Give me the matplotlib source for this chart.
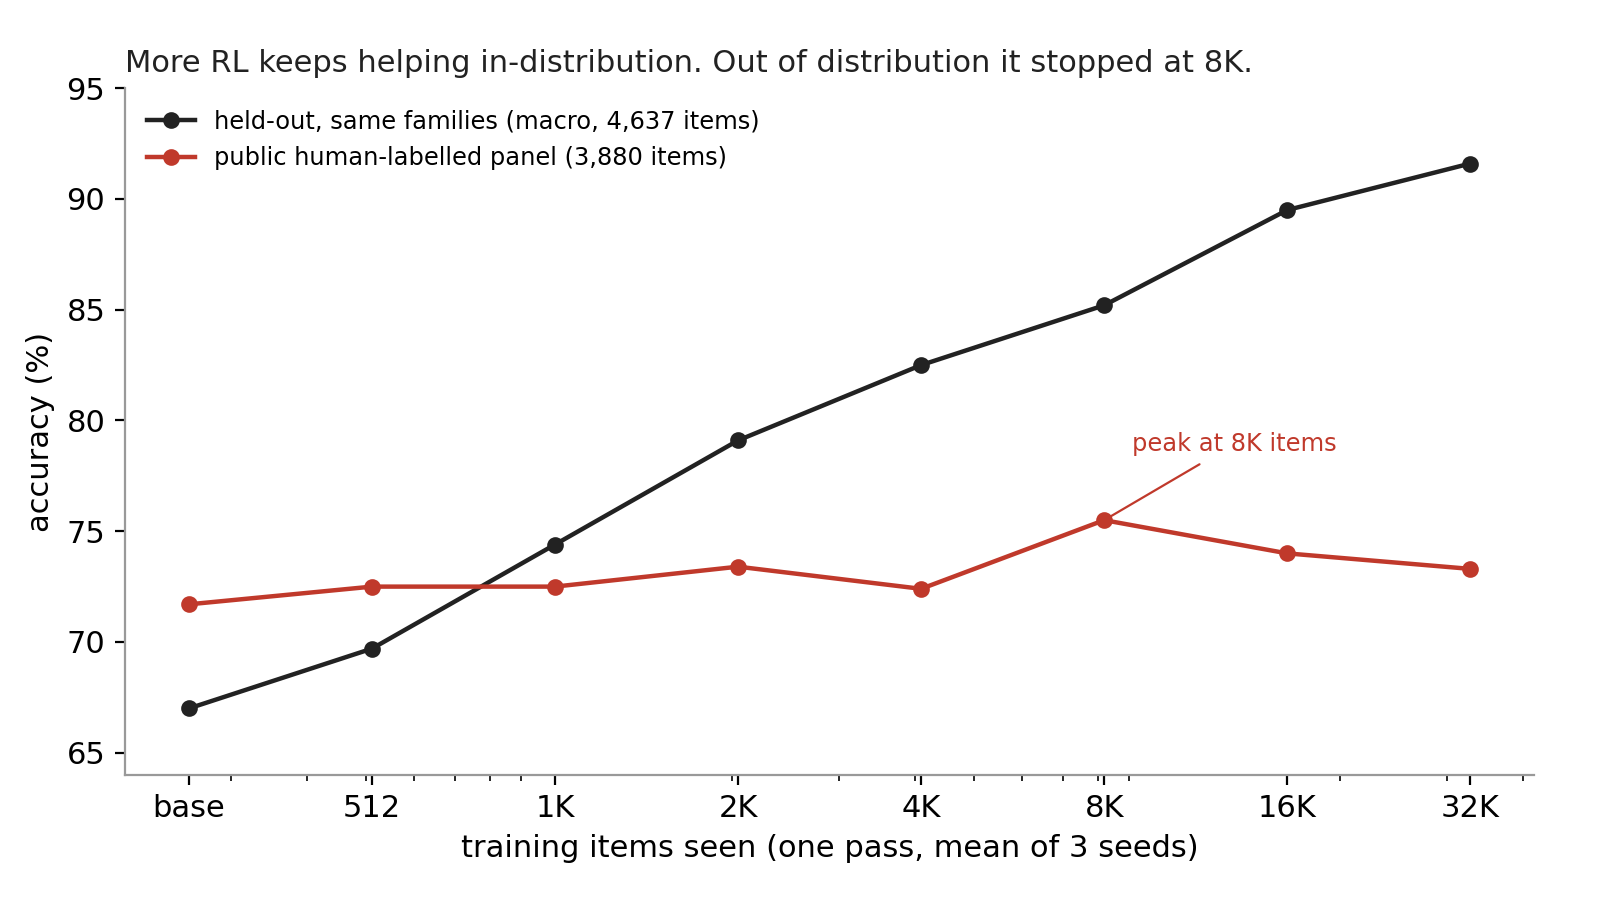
import numpy as np
import matplotlib
matplotlib.use("Agg")
import matplotlib.pyplot as plt
from matplotlib.ticker import NullFormatter

# training items seen (log scale), base model placed at 256
items = [256, 512, 1024, 2048, 4096, 8192, 16384, 32768]
tick_labels = ["base", "512", "1K", "2K", "4K", "8K", "16K", "32K"]
held_out = [67.0, 69.7, 74.4, 79.1, 82.5, 85.2, 89.5, 91.6]
public_panel = [71.7, 72.5, 72.5, 73.4, 72.4, 75.5, 74.0, 73.3]

black = "#222222"
red = "#c0392b"

fig = plt.figure(figsize=(8, 4.5), dpi=200)
ax = fig.add_axes([0.078, 0.139, 0.881, 0.763])

ax.plot(items, held_out, color=black, lw=1.6, marker="o", ms=5,
        label="held-out, same families (macro, 4,637 items)")
ax.plot(items, public_panel, color=red, lw=1.6, marker="o", ms=5,
        label="public human-labelled panel (3,880 items)")

ax.set_xscale("log")
ax.set_xticks(items)
ax.set_xticklabels(tick_labels)
ax.xaxis.set_minor_formatter(NullFormatter())
ax.set_ylim(64, 95)
ax.set_yticks([65, 70, 75, 80, 85, 90, 95])

ax.tick_params(axis="both", which="major", labelsize=11, length=3.5, width=0.8, colors="black")
ax.tick_params(axis="x", which="minor", length=2, width=0.6)

for s in ["top", "right"]:
    ax.spines[s].set_visible(False)
for s in ["left", "bottom"]:
    ax.spines[s].set_color("#999999")
    ax.spines[s].set_linewidth(0.8)

ax.set_xlabel("training items seen (one pass, mean of 3 seeds)", fontsize=11)
ax.set_ylabel("accuracy (%)", fontsize=11)
ax.set_title("More RL keeps helping in-distribution. Out of distribution it stopped at 8K.",
             loc="left", fontsize=11, color=black)

ax.annotate("peak at 8K items", xy=(items[5], public_panel[5]), xytext=(9100, 78.4),
            fontsize=8.7, color=red, ha="left", va="bottom",
            arrowprops=dict(arrowstyle="-", color=red, lw=0.8))

ax.legend(loc="upper left", frameon=False, fontsize=8.7)

fig.savefig("out.png", dpi=200)
